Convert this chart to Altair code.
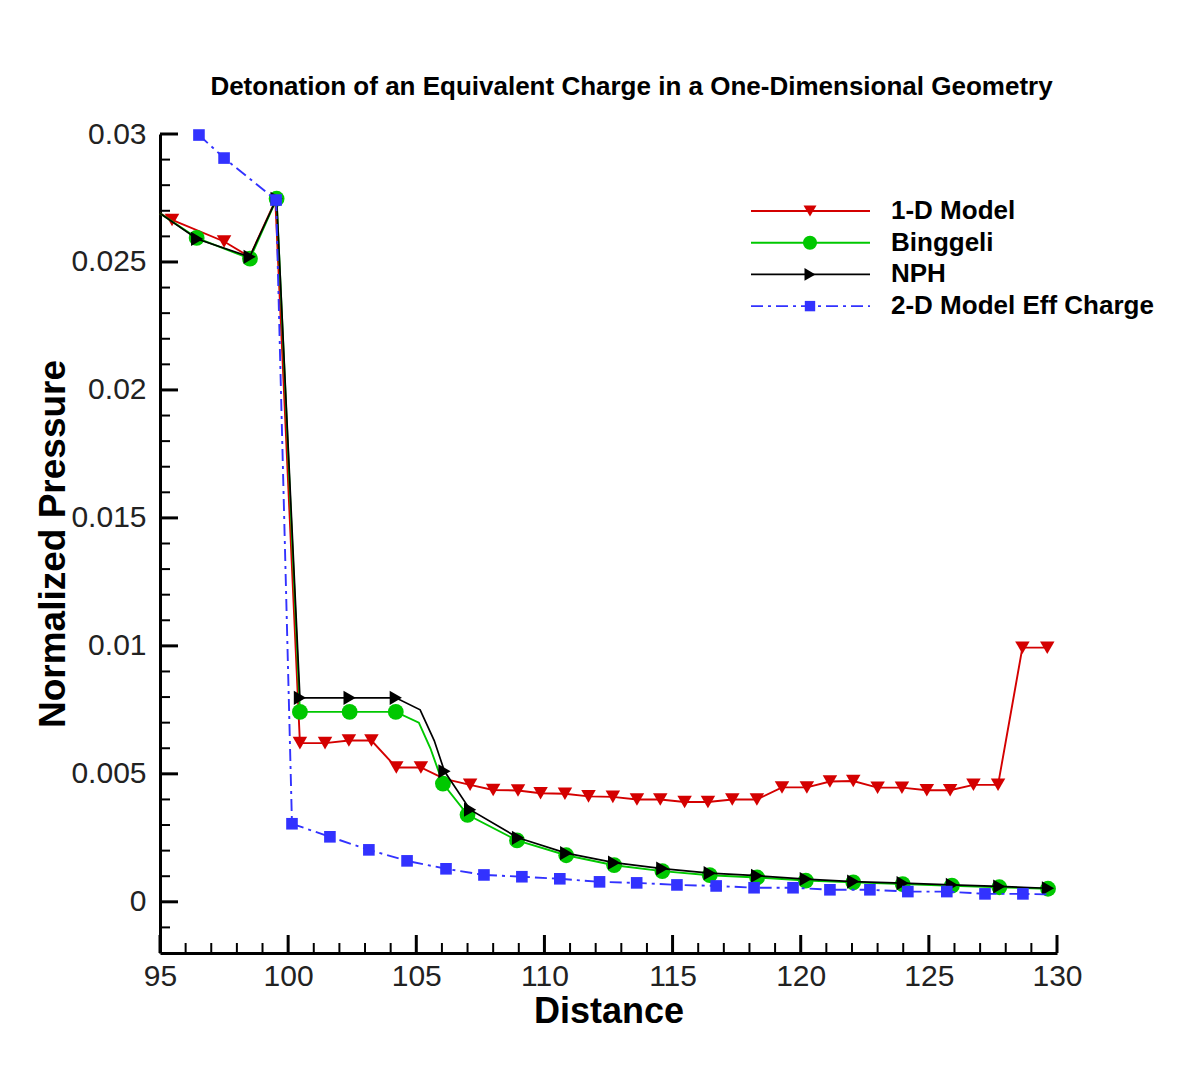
import altair as alt
import pandas as pd

# ---------------- data ----------------
series_names = ["1-D Model", "Binggeli", "NPH", "2-D Model Eff Charge"]

# 1-D Model
x_1d = [95.0, 95.47, 97.5, 98.5, 99.5, 100.46, 101.44, 102.37, 103.25, 104.22, 105.18,
        106.1, 107.1, 108.0, 108.97, 109.85, 110.8, 111.72, 112.67, 113.61, 114.52,
        115.47, 116.38, 117.33, 118.29, 119.27, 120.24, 121.14, 122.05, 123.0, 123.95,
        124.92, 125.83, 126.74, 127.7, 128.65, 129.62]
y_1d = [0.0269, 0.02664, 0.0258, 0.0252, 0.0274, 0.0062, 0.0062, 0.0063, 0.0063, 0.00525, 0.00525,
        0.0048, 0.00457, 0.00437, 0.00435, 0.00424, 0.00422, 0.00412, 0.0041, 0.004, 0.004,
        0.0039, 0.0039, 0.004, 0.004, 0.00447, 0.00447, 0.0047, 0.00472, 0.00446, 0.00446,
        0.00436, 0.00436, 0.00457, 0.00457, 0.00993, 0.00993]
m_1d = [False, True, True, False, False, True, True, True, True, True, True,
        False, True, True, True, True, True, True, True, True, True,
        True, True, True, True, True, True, True, True, True, True,
        True, True, True, True, True, True]

# Binggeli
x_bg = [95.0, 96.43, 98.51, 99.55, 100.46, 102.4, 104.2, 105.1, 105.55, 106.04, 107.0,
        108.93, 110.85, 112.72, 114.6, 116.45, 118.3, 120.2, 122.05, 123.98, 125.9, 127.75, 129.65]
y_bg = [0.0269, 0.02594, 0.02513, 0.02747, 0.00742, 0.00742, 0.00742, 0.0070, 0.0060, 0.00462, 0.0034,
        0.0024, 0.00182, 0.00143, 0.0012, 0.00104, 0.00095, 0.00083, 0.00076, 0.00069, 0.00063,
        0.00057, 0.00051]
m_bg = [False, True, True, True, True, True, True, False, False, True, True,
        True, True, True, True, True, True, True, True, True, True, True, True]

# NPH
x_nph = [95.0, 96.45, 98.5, 99.55, 100.46, 102.4, 104.2, 105.15, 105.7, 106.1, 107.1,
         108.97, 110.85, 112.72, 114.6, 116.45, 118.3, 120.2, 122.05, 123.98, 125.9, 127.75, 129.65]
y_nph = [0.0269, 0.0259, 0.0252, 0.02747, 0.00797, 0.00797, 0.00797, 0.0075, 0.0063, 0.0051, 0.0036,
         0.0025, 0.0019, 0.00153, 0.0013, 0.00112, 0.00102, 0.00089, 0.00079, 0.00073, 0.00066,
         0.0006, 0.00053]
m_nph = [False, True, True, True, True, True, True, False, False, True, True,
         True, True, True, True, True, True, True, True, True, True, True, True]

# 2-D Model Eff Charge
x_2d = [96.52, 97.5, 99.53, 100.15, 101.63, 103.15, 104.64, 106.16, 107.64, 109.12, 110.6,
        112.15, 113.6, 115.17, 116.7, 118.18, 119.7, 121.14, 122.7, 124.18, 125.7, 127.19,
        128.67, 129.7]
y_2d = [0.02996, 0.02906, 0.02742, 0.00305, 0.00254, 0.00203, 0.0016, 0.00129, 0.00105, 0.00098,
        0.0009, 0.00078, 0.00074, 0.00066, 0.00062, 0.00055, 0.00055, 0.00047, 0.00047, 0.0004,
        0.0004, 0.00031, 0.00031, 0.00029]
m_2d = [True] * 23 + [False]

# axis tick values
x_major = [95, 100, 105, 110, 115, 120, 125, 130]
x_minor = [v for v in range(96, 130) if v % 5 != 0]
y_major = [0.0, 0.005, 0.01, 0.015, 0.02, 0.025, 0.03]
y_minor = [-0.001] + [round(i * 0.001, 3) for i in range(1, 30) if i % 5 != 0]

# ---------------- layout / style ----------------
W, H = 897, 819
FONT = "Liberation Sans"
styles = [
    dict(color="#d40000", shape="triangle-down", size=210, dash=None, width=1.9),
    dict(color="#00c800", shape="circle", size=250, dash=None, width=1.9),
    dict(color="#000000", shape="triangle-right", size=200, dash=None, width=1.7),
    dict(color="#3232ff", shape="square", size=135, dash=[12, 5, 3, 5], width=1.9),
]
series_data = [(x_1d, y_1d, m_1d), (x_bg, y_bg, m_bg), (x_nph, y_nph, m_nph), (x_2d, y_2d, m_2d)]

xscale = alt.Scale(domain=[95, 130], nice=False, zero=False)
yscale = alt.Scale(domain=[-0.002, 0.03], nice=False, zero=False)

xaxis = alt.Axis(values=x_major, format="d", ticks=False, tickSize=0, grid=False,
                 domainColor="black", domainWidth=3, labelFont=FONT, labelFontSize=30,
                 labelColor="#222", labelPadding=8, labelFlush=False,
                 title="Distance", titleFont=FONT, titleFontSize=36, titleFontWeight="bold",
                 titleColor="black", titleY=69, titleBaseline="alphabetic")
yaxis = alt.Axis(values=y_major, format="~g", ticks=False, tickSize=0, grid=False,
                 domainColor="black", domainWidth=3, labelFont=FONT, labelFontSize=30,
                 labelColor="#222", labelPadding=14, labelFlush=False,
                 title="Normalized Pressure", titleFont=FONT, titleFontSize=37,
                 titleFontWeight="bold", titleColor="black", titleAngle=270,
                 titleX=-96, titleY=H / 2, titleAlign="center", titleBaseline="alphabetic")

layers = []

# tick marks (inward)
layers.append(alt.Chart(pd.DataFrame({"v": x_major})).mark_rule(color="black", strokeWidth=3).encode(
    x=alt.X("v:Q", scale=xscale, axis=xaxis), y=alt.value(H), y2=alt.value(H - 18)))
layers.append(alt.Chart(pd.DataFrame({"v": x_minor})).mark_rule(color="black", strokeWidth=2).encode(
    x=alt.X("v:Q", scale=xscale), y=alt.value(H), y2=alt.value(H - 10)))
layers.append(alt.Chart(pd.DataFrame({"v": y_major})).mark_rule(color="black", strokeWidth=3).encode(
    y=alt.Y("v:Q", scale=yscale, axis=yaxis), x=alt.value(0), x2=alt.value(18)))
layers.append(alt.Chart(pd.DataFrame({"v": y_minor})).mark_rule(color="black", strokeWidth=2).encode(
    y=alt.Y("v:Q", scale=yscale), x=alt.value(0), x2=alt.value(10)))

for name, (xs, ys, ms), st in zip(series_names, series_data, styles):
    df = pd.DataFrame({"x": xs, "y": ys, "m": ms, "i": list(range(len(xs)))})
    line_kw = dict(color=st["color"], strokeWidth=st["width"])
    if st["dash"]:
        line_kw["strokeDash"] = st["dash"]
    layers.append(alt.Chart(df).mark_line(**line_kw).encode(
        x=alt.X("x:Q", scale=xscale), y=alt.Y("y:Q", scale=yscale), order="i:Q"))
    layers.append(alt.Chart(df).transform_filter("datum.m").mark_point(
        shape=st["shape"], filled=True, opacity=1, color=st["color"], size=st["size"]).encode(
        x=alt.X("x:Q", scale=xscale), y=alt.Y("y:Q", scale=yscale)))

# manual legend (line + symbol + label)
leg_x1, leg_x2, leg_xm, leg_xt = 591, 710, 650, 731
leg_y0, leg_dy = 77, 31.7
one = pd.DataFrame({"a": [0]})
for k, (name, st) in enumerate(zip(series_names, styles)):
    yy = leg_y0 + k * leg_dy
    rule_kw = dict(color=st["color"], strokeWidth=st["width"])
    if st["dash"]:
        rule_kw["strokeDash"] = st["dash"]
    layers.append(alt.Chart(one).mark_rule(**rule_kw).encode(
        x=alt.value(leg_x1), x2=alt.value(leg_x2), y=alt.value(yy)))
    layers.append(alt.Chart(one).mark_point(shape=st["shape"], filled=True, opacity=1,
                                            color=st["color"], size=st["size"] * 0.8).encode(
        x=alt.value(leg_xm), y=alt.value(yy)))
    layers.append(alt.Chart(one).mark_text(align="left", baseline="middle", font=FONT,
                                           fontSize=26, fontWeight="bold", color="black").encode(
        x=alt.value(leg_xt), y=alt.value(yy), text=alt.value(name)))

chart = alt.layer(*layers).properties(
    width=W, height=H,
    background="white",
    title=alt.TitleParams("Detonation of an Equivalent Charge in a One-Dimensional Geometry",
                          font=FONT, fontSize=26, fontWeight="bold", color="black",
                          anchor="middle", frame="group", dx=23, dy=3, offset=1,
                          baseline="alphabetic"),
    autosize=alt.AutoSizeParams(type="none"),
    padding={"left": 152, "top": 126, "right": 136, "bottom": 100},
).configure_view(stroke=None)

chart.save("out.html", embed_options={"renderer": "svg", "actions": False})
